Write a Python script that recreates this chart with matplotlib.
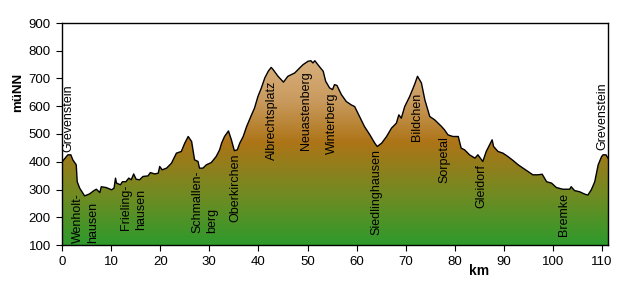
import numpy as np
import matplotlib
matplotlib.use("Agg")
import matplotlib.pyplot as plt
from matplotlib.colors import LinearSegmentedColormap

plt.rcParams["font.family"] = ["Liberation Sans", "DejaVu Sans"]

# Höhenprofil (km, m ü. NN)
km = [0, 0.9, 1.2, 1.8, 2.2, 2.9, 3.1, 3.6, 4.6, 5.6, 6.5, 7.0, 7.7, 8.0, 9.0,
      10.1, 10.6, 10.9, 11.1, 11.9, 12.3, 13.0, 13.6, 14.1, 14.6, 15.1, 15.8,
      16.5, 17.5, 18.0, 18.9, 19.6, 19.9, 20.4, 21.3, 22.3, 23.3, 24.3, 25.0,
      25.7, 26.4, 27.0, 27.7, 28.0, 28.7, 29.4, 30.4, 31.4, 32.1, 32.5, 33.1,
      33.9, 34.5, 35.1, 35.7, 36.2, 36.9, 37.6, 38.6, 39.2, 39.9, 40.6, 41.3,
      42.0, 42.6, 43.0, 44.0, 45.1, 46.0, 47.4, 48.4, 49.1, 50.1, 50.7, 51.1,
      51.5, 52.1, 53.2, 53.7, 54.5, 55.1, 55.5, 56.0, 56.9, 57.9, 58.9, 59.6,
      60.6, 61.6, 62.7, 63.7, 64.2, 65.1, 66.1, 67.1, 68.1, 68.6, 69.1, 69.8,
      70.8, 71.8, 72.4, 73.2, 73.9, 74.5, 74.9, 75.9, 77.3, 77.9, 78.6, 79.6,
      80.7, 81.3, 82.0, 83.0, 84.1, 84.7, 85.7, 86.4, 87.6, 87.9, 88.8, 89.8,
      90.8, 91.9, 92.9, 93.9, 94.9, 95.9, 96.9, 97.8, 98.7, 99.7, 100.7, 102.0,
      103.4, 103.7, 104.4, 105.4, 106.5, 107.1, 107.8, 108.5, 109.2, 109.9,
      110.2, 110.8, 111.2]
hoehe = [399, 419, 425, 425, 407, 389, 328, 305, 277, 284, 296, 301, 289, 310, 307,
         299, 305, 341, 323, 317, 328, 328, 341, 335, 356, 337, 335,
         347, 349, 361, 356, 359, 383, 371, 377, 395, 431, 437, 467,
         491, 473, 407, 401, 377, 377, 389, 397, 419, 443, 467, 491,
         511, 479, 440, 443, 467, 491, 527, 569, 593, 635, 666, 702,
         726, 740, 732, 708, 687, 708, 720, 738, 750, 762, 764, 756,
         764, 750, 726, 690, 666, 660, 678, 675, 642, 617, 605, 599,
         563, 527, 497, 467, 455, 467, 491, 521, 539, 569, 557, 599,
         635, 678, 708, 684, 623, 587, 563, 551, 527, 515, 497, 491,
         491, 449, 443, 425, 413, 425, 401, 437, 479, 455, 437, 431,
         419, 404, 389, 377, 365, 353, 353, 355, 328, 323, 307, 301,
         301, 310, 296, 292, 283, 280, 299, 328, 389, 419,
         425, 425, 413]

# Ortsnamen
orte = ["Grevenstein", "Wenholt-\nhausen", "Frieling-\nhausen", "Schmallen-\nberg",
        "Oberkirchen", "Albrechtsplatz", "Neuastenberg", "Winterberg",
        "Siedlinghausen", "Bildchen", "Sorpetal", "Gleidorf", "Bremke", "Grevenstein"]
orte_km = [1.4, 4.75, 14.5, 29.1, 35.4, 42.8, 49.6, 54.9, 64.0, 72.2, 77.9, 85.4, 102.2, 110.1]
orte_h = [436, 107, 154, 144, 184, 407, 443, 428, 136, 476, 323, 232, 132, 443]

fig = plt.figure(figsize=(6.33, 2.86), dpi=100)
ax = fig.add_axes([62 / 633, 41 / 286, 546 / 633, 222 / 286])

x_max = 111.2
ax.set_xlim(0, x_max)
ax.set_ylim(100, 900)

# Farbverlauf grün -> braun -> hellbraun (nach Höhe)
stufen = [(100, "#2e9a2c"), (280, "#718b22"), (470, "#ad7417"),
          (620, "#c99a5e"), (770, "#d8b07c"), (900, "#e0bc8c")]
cmap = LinearSegmentedColormap.from_list(
    "hoehe", [((h - 100) / 800, c) for h, c in stufen])
grad = np.linspace(0, 1, 400).reshape(-1, 1)
img = ax.imshow(grad, cmap=cmap, aspect="auto", origin="lower",
                extent=[0, x_max, 100, 900], zorder=1)
flaeche = ax.fill_between(km, hoehe, 100, facecolor="none", edgecolor="none")
img.set_clip_path(flaeche.get_paths()[0], transform=ax.transData)
ax.plot(km, hoehe, color="black", linewidth=1.0, zorder=3)

for name, x, y in zip(orte, orte_km, orte_h):
    ax.text(x, y, name, rotation=90, ha="center", va="bottom",
            multialignment="left", linespacing=1.35, fontsize=9, zorder=4)

ax.set_xticks(range(0, 111, 10))
ax.set_yticks(range(100, 901, 100))
ax.tick_params(direction="out", length=4, width=0.8, labelsize=9.5, pad=4)
for s in ax.spines.values():
    s.set_linewidth(1.0)
    s.set_color("black")

fig.text(18 / 633, 1 - 92 / 286, "müNN", rotation=90, fontsize=9.5,
         fontweight="bold", ha="center", va="center")
fig.text(479 / 633, 1 - 271 / 286, "km", fontsize=10, fontweight="bold",
         ha="center", va="center")

fig.savefig("out.png", dpi=100)
